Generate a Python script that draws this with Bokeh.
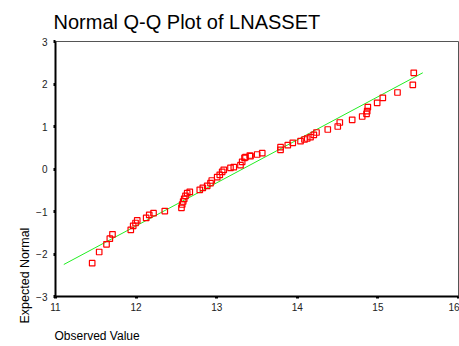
from bokeh.plotting import figure
from bokeh.models import Range1d, FixedTicker, Title
from bokeh.embed import file_html
from bokeh.resources import INLINE

observed = [11.455, 11.542, 11.633, 11.674, 11.707, 11.934, 11.964, 11.993, 12.014,
            12.125, 12.163, 12.216, 12.356,
            12.563, 12.572, 12.584, 12.597, 12.613, 12.634, 12.666, 12.790, 12.828,
            12.882, 12.923, 12.939, 13.006, 13.038, 13.068, 13.088, 13.171, 13.212,
            13.295, 13.316, 13.345, 13.357, 13.411, 13.419, 13.502, 13.565,
            13.792, 13.792, 13.882, 13.944, 14.040, 14.089, 14.123, 14.164, 14.205,
            14.238, 14.378, 14.502, 14.527, 14.681, 14.805, 14.859, 14.867, 14.875,
            14.991, 15.061, 15.243, 15.433, 15.445]
expected = [-2.217, -1.953, -1.772, -1.640, -1.537, -1.430, -1.336, -1.270, -1.210,
            -1.150, -1.080, -1.040, -0.990,
            -0.913, -0.835, -0.765, -0.702, -0.631, -0.569, -0.536, -0.489, -0.442,
            -0.395, -0.334, -0.271, -0.193, -0.136, -0.066, -0.019, 0.028, 0.042,
            0.089, 0.169, 0.263, 0.278, 0.318, 0.300, 0.341, 0.372,
            0.451, 0.513, 0.560, 0.616, 0.654, 0.694, 0.718, 0.749, 0.804,
            0.859, 0.929, 1.000, 1.094, 1.158, 1.235, 1.299, 1.360, 1.454,
            1.558, 1.675, 1.800, 1.980, 2.264]

line_x = [11.103, 15.557]
line_y = [-2.247, 2.264]

x_ticks = [11, 12, 13, 14, 15, 16]
y_ticks = [-3, -2, -1, 0, 1, 2, 3]

FONT = "Liberation Sans"

p = figure(width=459, height=346, output_backend="svg", toolbar_location=None,
           x_range=Range1d(11, 16), y_range=Range1d(-3, 3),
           min_border_left=55, min_border_right=1, min_border_top=41, min_border_bottom=50)
p.grid.visible = False
p.background_fill_color = "white"
p.border_fill_color = "white"
p.outline_line_color = "#555555"
p.outline_line_width = 1

p.title.text = "Normal Q-Q Plot of LNASSET"
p.title.align = "left"
p.title.offset = -2
p.title.text_font = FONT
p.title.text_font_size = "20px"
p.title.text_font_style = "normal"
p.title.text_color = "black"
p.title.text_line_height = 1.0
p.title.standoff = 17

for ax in (p.xaxis[0], p.yaxis[0]):
    ax.axis_line_color = "black"
    ax.axis_line_width = 2
    ax.major_tick_in = 0
    ax.major_tick_out = 2
    ax.major_tick_line_width = 3
    ax.major_tick_line_color = "black"
    ax.minor_tick_line_color = None
    ax.major_label_text_font = FONT
    ax.major_label_text_font_size = "10px"
    ax.major_label_text_color = "#222222"
p.xaxis[0].ticker = FixedTicker(ticks=x_ticks)
p.yaxis[0].ticker = FixedTicker(ticks=y_ticks)
p.xaxis[0].major_label_standoff = 4
p.yaxis[0].major_label_standoff = 6

# spacer between the x axis and its label
p.add_layout(Title(text=" ", text_font_size="10px", standoff=0), "below")
p.add_layout(Title(text="Observed Value", align="left", offset=-1, text_font=FONT,
                   text_font_size="12px", text_font_style="normal", text_color="black",
                   standoff=0), "below")
p.add_layout(Title(text="Expected Normal", align="left", offset=-27, text_font=FONT,
                   text_font_size="12.5px", text_font_style="normal", text_color="black",
                   standoff=4), "left")

p.line(line_x, line_y, line_color="#22ee22", line_width=1)
p.scatter(observed, expected, marker="square", size=5.5, line_color="red",
          fill_color=None, line_width=1.2)

open("out.html", "w").write(file_html(p, INLINE))
